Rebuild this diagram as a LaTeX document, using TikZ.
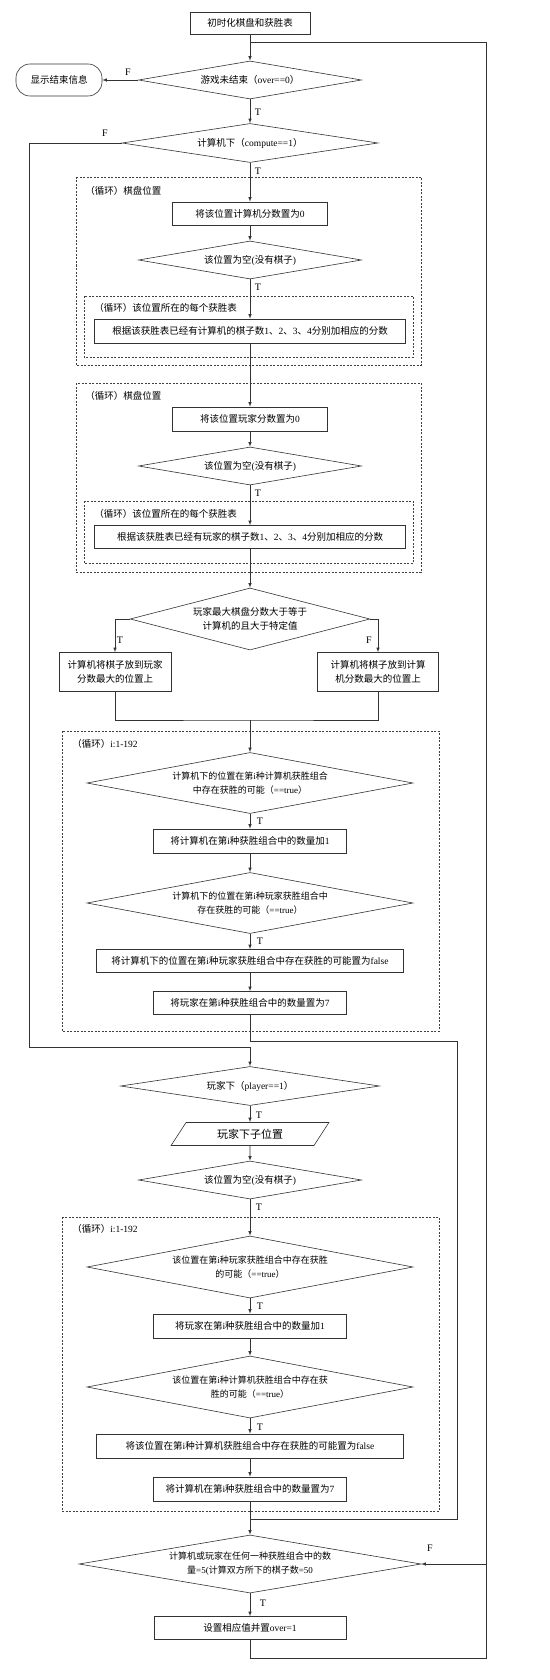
\documentclass[tikz,border=0pt]{standalone}
\usepackage{fontspec}
\setmainfont{Liberation Serif}
\newfontfamily\cjkfont{Noto Sans CJK SC}
\usepackage{tikz}
\usetikzlibrary{shapes.geometric}
% Chinese characters switch to the CJK font, the rest stays in Liberation Serif
\newXeTeXintercharclass\cjkclass
\count255="3000
\loop\XeTeXcharclass\count255=\cjkclass \advance\count255 by 1 \ifnum\count255<"A000 \repeat
\count255="FF00
\loop\XeTeXcharclass\count255=\cjkclass \advance\count255 by 1 \ifnum\count255<"FFF0 \repeat
\XeTeXinterchartoks 0 \cjkclass={\cjkfont}
\XeTeXinterchartoks 4095 \cjkclass={\cjkfont}
\XeTeXinterchartoks \cjkclass 0={\rmfamily}
\XeTeXinterchartokenstate=1

\begin{document}
\begin{tikzpicture}[x=1pt,y=-1pt,>=latex,line width=0.6pt,draw=black!80,
  font=\fontsize{9.5}{14}\selectfont,
  box/.style={draw,rectangle,inner sep=1pt,align=center},
  dia/.style={draw,diamond,aspect=5.5,inner sep=0pt,align=center},
  term/.style={draw,rectangle,rounded corners=14pt,align=center},
  io/.style={draw,trapezium,trapezium left angle=57,trapezium right angle=123,inner sep=1pt},
  loopbox/.style={draw=black!75,dash pattern=on 2pt off 1.5pt,line width=0.5pt},
  looplbl/.style={anchor=west,inner sep=0pt},
  tf/.style={inner sep=0pt,font=\fontsize{10}{12}\selectfont}]
\useasboundingbox (0,0) rectangle (549,1680);

% start
\node[box,minimum width=120pt,minimum height=22pt] (init) at (250,23) {初时化棋盘和获胜表};
\node[dia,minimum width=223pt,minimum height=38pt] (over) at (250,80) {游戏未结束（over==0）};
\node[term,minimum width=86pt,minimum height=32pt] (endmsg) at (59,80) {显示结束信息};
\node[dia,minimum width=256pt,minimum height=39pt] (comp) at (250,143) {计算机下（compute==1）};

% computer scores
\draw[loopbox] (76,177) rectangle (421,365);
\node[looplbl] (lpa) at (85,191) {（循环）棋盘位置};
\node[box,minimum width=155pt,minimum height=23pt] (czero) at (250,213.5) {将该位置计算机分数置为0};
\node[dia,minimum width=223pt,minimum height=38pt] (cempty) at (250,260) {该位置为空(没有棋子)};
\draw[loopbox] (84,296) rectangle (413,357);
\node[looplbl] (lpb) at (94,308) {（循环）该位置所在的每个获胜表};
\node[box,minimum width=311pt,minimum height=24pt] (cadd) at (250,331) {根据该获胜表已经有计算机的棋子数1、2、3、4分别加相应的分数};

% player scores
\draw[loopbox] (76,383) rectangle (421,572);
\node[looplbl] (lpc) at (85,396) {（循环）棋盘位置};
\node[box,minimum width=155pt,minimum height=24pt] (pzero) at (250,419) {将该位置玩家分数置为0};
\node[dia,minimum width=223pt,minimum height=38pt] (pempty) at (250,466) {该位置为空(没有棋子)};
\draw[loopbox] (84,501) rectangle (413,563);
\node[looplbl] (lpd) at (94,514) {（循环）该位置所在的每个获胜表};
\node[box,minimum width=311pt,minimum height=23pt] (padd) at (250,537) {根据该获胜表已经有玩家的棋子数1、2、3、4分别加相应的分数};

% where the computer moves
\node[dia,minimum width=239pt,minimum height=62pt] (cmp) at (250,619) {玩家最大棋盘分数大于等于\\计算机的且大于特定值};
\node[box,minimum width=112pt,minimum height=39pt] (toplayer) at (115,672) {计算机将棋子放到玩家\\分数最大的位置上};
\node[box,minimum width=121pt,minimum height=39pt] (tocomp) at (378,672) {计算机将棋子放到计算\\机分数最大的位置上};

% update after computer move
\draw[loopbox] (62,731) rectangle (439,1031);
\node[looplbl] (lpe) at (72,744) {（循环）i:1-192};
\node[dia,minimum width=326pt,minimum height=61pt,font=\fontsize{9}{14}\selectfont] (cwin) at (250,783) {计算机下的位置在第i种计算机获胜组合\\中存在获胜的可能（==true）};
\node[box,minimum width=193pt,minimum height=24pt] (cinc) at (250,841) {将计算机在第i种获胜组合中的数量加1};
\node[dia,minimum width=326pt,minimum height=61pt,font=\fontsize{9}{14}\selectfont] (pwin) at (250,903) {计算机下的位置在第i种玩家获胜组合中\\存在获胜的可能（==true）};
\node[box,minimum width=307pt,minimum height=23pt] (pfalse) at (250,961) {将计算机下的位置在第i种玩家获胜组合中存在获胜的可能置为false};
\node[box,minimum width=193pt,minimum height=23pt] (pseven) at (250,1003) {将玩家在第i种获胜组合中的数量置为7};

% player move
\node[dia,minimum width=259pt,minimum height=39pt] (play) at (250,1086) {玩家下（player==1）};
\node[io,minimum width=152pt,minimum height=23pt,font=\fontsize{11}{13}\selectfont] (pos) at (250,1134) {玩家下子位置};
\node[dia,minimum width=223pt,minimum height=38pt] (empty) at (250,1180) {该位置为空(没有棋子)};

% update after player move
\draw[loopbox] (62,1217) rectangle (439,1511);
\node[looplbl] (lpf) at (72,1229) {（循环）i:1-192};
\node[dia,minimum width=326pt,minimum height=62pt,font=\fontsize{9}{14}\selectfont] (pwin2) at (250,1267) {该位置在第i种玩家获胜组合中存在获胜\\的可能（==true）};
\node[box,minimum width=193pt,minimum height=24pt] (pinc) at (250,1326) {将玩家在第i种获胜组合中的数量加1};
\node[dia,minimum width=326pt,minimum height=62pt,font=\fontsize{9}{14}\selectfont] (cwin2) at (250,1387) {该位置在第i种计算机获胜组合中存在获\\胜的可能（==true）};
\node[box,minimum width=307pt,minimum height=24pt] (cfalse) at (250,1446) {将该位置在第i种计算机获胜组合中存在获胜的可能置为false};
\node[box,minimum width=193pt,minimum height=24pt] (cseven) at (250,1489) {将计算机在第i种获胜组合中的数量置为7};

% game over?
\node[dia,minimum width=342pt,minimum height=58pt,font=\fontsize{9}{14}\selectfont] (five) at (250,1564) {计算机或玩家在任何一种获胜组合中的数\\量=5(计算双方所下的棋子数=50};
\node[box,minimum width=192pt,minimum height=23pt] (setover) at (250,1628) {设置相应值并置over=1};

\coordinate (jtop) at (250,42);
\coordinate (rback) at (486,1658);
\coordinate (lskip) at (29,1047);
\coordinate (jmove) at (250,720);
\coordinate (rcomp) at (457,1041);
\coordinate (jend) at (250,1519);

% connectors
\draw[->] (init) -- (over);
\draw (setover) |- (rback) |- (jtop);
\draw[->] (over.west) -- (endmsg.east);
\draw[->] (over) -- (comp);
\draw[->] (comp.west) -| (lskip) -| (play.north);
\draw[->] (comp) -- (czero);
\draw[->] (czero) -- (cempty);
\draw[->] (cempty) -- (cadd);
\draw[->] (cadd) -- (pzero);
\draw[->] (pzero) -- (pempty);
\draw[->] (pempty) -- (padd);
\draw[->] (padd) -- (cmp);
\draw[->] (cmp.west) -| (toplayer.north);
\draw[->] (cmp.east) -| (tocomp.north);
\draw (toplayer.south) |- (jmove) -| (tocomp.south);
\draw[->] (jmove) -- (cwin);
\draw[->] (cwin) -- (cinc);
\draw[->] (cinc) -- (pwin);
\draw[->] (pwin) -- (pfalse);
\draw[->] (pfalse) -- (pseven);
\draw (pseven) |- (rcomp) |- (jend);
\draw[->] (play) -- (pos);
\draw[->] (pos) -- (empty);
\draw[->] (empty) -- (pwin2);
\draw[->] (pwin2) -- (pinc);
\draw[->] (pinc) -- (cwin2);
\draw[->] (cwin2) -- (cfalse);
\draw[->] (cfalse) -- (cseven);
\draw[->] (cseven) -- (five);
\draw[->] (rback |- five.east) -- (five.east);
\draw[->] (five) -- (setover);

% T / F
\node[tf] (f1) at (128,72) {F};
\node[tf] (t1) at (258,112) {T};
\node[tf] (f2) at (105,133) {F};
\node[tf] (t2) at (258,171) {T};
\node[tf] (t3) at (258,287) {T};
\node[tf] (t4) at (258,493) {T};
\node[tf] (t5) at (120,640) {T};
\node[tf] (f3) at (369,640) {F};
\node[tf] (t6) at (260,821) {T};
\node[tf] (t7) at (260,941) {T};
\node[tf] (t8) at (259,1115) {T};
\node[tf] (t9) at (259,1207) {T};
\node[tf] (t10) at (260,1306) {T};
\node[tf] (t11) at (260,1427) {T};
\node[tf] (f4) at (430,1548) {F};
\node[tf] (t12) at (263,1603) {T};
\end{tikzpicture}
\end{document}
